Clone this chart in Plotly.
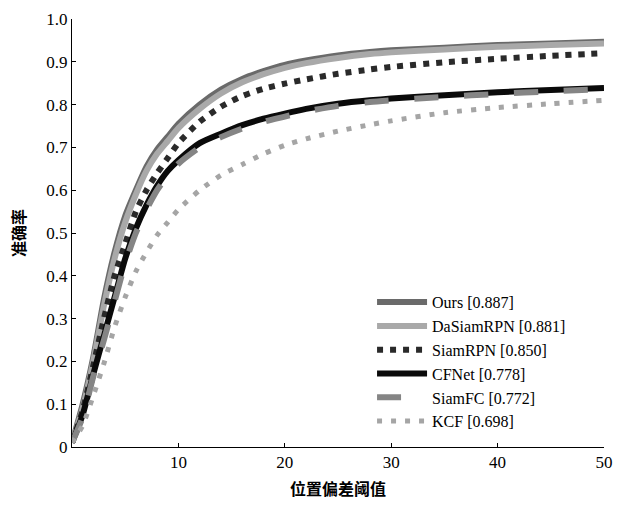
import plotly.graph_objects as go

thresholds = [0, 1, 2, 3, 4, 5, 6, 7, 8, 9, 10, 12, 14, 16, 18, 20, 22, 25, 28, 30, 35, 40, 45, 50]

ours = [0.01, 0.10, 0.21, 0.345, 0.455, 0.54, 0.60, 0.655, 0.695, 0.725, 0.755, 0.80, 0.835, 0.86, 0.878, 0.893, 0.903, 0.915, 0.923, 0.927, 0.933, 0.939, 0.943, 0.947]
dasiamrpn = [0.01, 0.09, 0.20, 0.33, 0.44, 0.525, 0.59, 0.645, 0.685, 0.715, 0.745, 0.79, 0.826, 0.852, 0.871, 0.886, 0.897, 0.909, 0.918, 0.922, 0.929, 0.935, 0.939, 0.943]
siamrpn = [0.01, 0.085, 0.19, 0.30, 0.40, 0.475, 0.55, 0.60, 0.64, 0.675, 0.71, 0.76, 0.795, 0.82, 0.837, 0.849, 0.859, 0.872, 0.882, 0.888, 0.899, 0.907, 0.914, 0.92]
cfnet = [0.01, 0.075, 0.17, 0.26, 0.35, 0.44, 0.51, 0.565, 0.61, 0.645, 0.67, 0.71, 0.732, 0.752, 0.767, 0.779, 0.79, 0.802, 0.81, 0.814, 0.822, 0.829, 0.834, 0.839]
siamfc = [0.01, 0.07, 0.165, 0.25, 0.34, 0.43, 0.50, 0.555, 0.60, 0.635, 0.662, 0.70, 0.724, 0.744, 0.76, 0.772, 0.784, 0.797, 0.806, 0.81, 0.818, 0.825, 0.831, 0.836]
kcf = [0.01, 0.05, 0.12, 0.195, 0.28, 0.35, 0.41, 0.455, 0.495, 0.525, 0.555, 0.60, 0.635, 0.66, 0.685, 0.705, 0.72, 0.738, 0.753, 0.762, 0.781, 0.793, 0.802, 0.81]

names = ["Ours [0.887]", "DaSiamRPN [0.881]", "SiamRPN [0.850]", "CFNet [0.778]", "SiamFC [0.772]", "KCF [0.698]"]
series = [ours, dasiamrpn, siamrpn, cfnet, siamfc, kcf]
colors = ["#6a6a6a", "#a9a9a9", "#2a2a2a", "#0a0a0a", "#858585", "#a5a5a5"]
widths = [6, 6, 6, 6, 6, 5]
dashes = ["solid", "solid", "6px,7px", "solid", "24px,26px", "5px,9px"]

ytick_vals = [0, 0.1, 0.2, 0.3, 0.4, 0.5, 0.6, 0.7, 0.8, 0.9, 1.0]
ytick_text = ["0", "0.1", "0.2", "0.3", "0.4", "0.5", "0.6", "0.7", "0.8", "0.9", "1.0"]
xtick_vals = [10, 20, 30, 40, 50]
xtick_text = ["10", "20", "30", "40", "50"]

fig = go.Figure()
for name, ys, c, w, d in zip(names, series, colors, widths, dashes):
    fig.add_trace(go.Scatter(x=thresholds, y=ys, mode="lines", name=name,
                             line=dict(color=c, width=w, dash=d, shape="spline", smoothing=0.6)))

serif = "Liberation Serif"
cjk = "Noto Sans CJK SC"

fig.update_layout(
    width=623, height=506,
    margin=dict(l=72, r=14, t=10, b=51),
    plot_bgcolor="white", paper_bgcolor="white",
    font=dict(family=serif, size=17, color="black"),
    showlegend=True,
    legend=dict(x=0.564, y=0.378, xanchor="left", yanchor="top",
                bgcolor="rgba(255,255,255,0)", borderwidth=0,
                font=dict(family=serif, size=16, color="black"),
                itemwidth=50, tracegroupgap=0),
    xaxis=dict(range=[0, 50], tickvals=xtick_vals, ticktext=xtick_text,
               showline=True, linecolor="black", linewidth=1, mirror=False,
               ticks="inside", ticklen=4, tickcolor="black", showgrid=False, zeroline=False,
               tickfont=dict(family=serif, size=17),
               title=dict(text="<b>位置偏差阈值</b>", font=dict(family=cjk, size=16), standoff=12)),
    yaxis=dict(range=[0, 1], tickvals=ytick_vals, ticktext=ytick_text,
               showline=True, linecolor="black", linewidth=1, mirror=False,
               ticks="inside", ticklen=4, tickcolor="black", showgrid=False, zeroline=False,
               tickfont=dict(family=serif, size=17),
               title=dict(text="<b>准确率</b>", font=dict(family=cjk, size=16), standoff=16)),
)

fig.write_html("out.html", post_script="document.body.style.margin='0';",
               config={"displayModeBar": False})
